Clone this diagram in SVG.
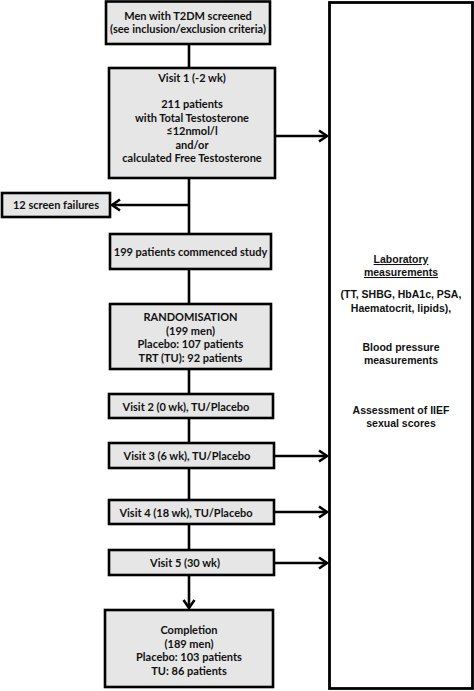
<svg xmlns="http://www.w3.org/2000/svg" width="474" height="691" viewBox="0 0 474 691">
<style>
.box{fill:#e6e6e6;stroke:#000;stroke-width:2.6}
.rbox{fill:#fff;stroke:#000;stroke-width:2.8}
.t{font-family:Lato,"Liberation Sans",sans-serif;font-weight:bold;font-size:11px;fill:#111;text-anchor:middle}
.r{font-family:"Liberation Sans",Arial,sans-serif;font-weight:bold;font-size:10.5px;fill:#111;text-anchor:middle}
.c{stroke:#000;stroke-width:2.6;fill:none}
</style>
<defs>
<marker id="ah" markerUnits="userSpaceOnUse" markerWidth="12" markerHeight="14" refX="9" refY="7" orient="auto" viewBox="0 0 12 14">
<path d="M1,1.5 L9,7 L1,12.5" fill="none" stroke="#000" stroke-width="2.6"/>
</marker>
</defs>
<rect width="474" height="691" fill="#fff"/>
<g id="connectors">
<line class="c" x1="189" y1="44" x2="189" y2="68"/>
<line class="c" x1="189" y1="178" x2="189" y2="234"/>
<line class="c" x1="189" y1="205" x2="112" y2="205" marker-end="url(#ah)"/>
<line class="c" x1="189" y1="269" x2="189" y2="304"/>
<line class="c" x1="189" y1="369" x2="189" y2="394"/>
<line class="c" x1="189" y1="418" x2="189" y2="443"/>
<line class="c" x1="189" y1="468" x2="189" y2="500"/>
<line class="c" x1="189" y1="524" x2="189" y2="550"/>
<line class="c" x1="189" y1="575" x2="189" y2="608" marker-end="url(#ah)"/>
<line class="c" x1="275" y1="136" x2="327" y2="136" marker-end="url(#ah)"/>
<line class="c" x1="275" y1="456" x2="327" y2="456" marker-end="url(#ah)"/>
<line class="c" x1="275" y1="512" x2="327" y2="512" marker-end="url(#ah)"/>
<line class="c" x1="275" y1="563" x2="327" y2="563" marker-end="url(#ah)"/>
</g>
<g id="screened">
<rect class="box" x="106" y="1.5" width="164" height="42.5"/>
<text class="t" x="188" y="20">Men with T2DM screened</text>
<text class="t" x="188" y="33">(see inclusion/exclusion criteria)</text>
</g>
<g id="visit1">
<rect class="box" x="109" y="68" width="166" height="110"/>
<text class="t" x="192" y="82">Visit 1 (-2 wk)</text>
<text class="t" x="192" y="108">211 patients</text>
<text class="t" x="192" y="121.5">with Total Testosterone</text>
<text class="t" x="192" y="135">≤12nmol/l</text>
<text class="t" x="192" y="148.5">and/or</text>
<text class="t" x="192" y="162">calculated Free Testosterone</text>
</g>
<g id="failures">
<rect class="box" x="2" y="193" width="108" height="24"/>
<text class="t" x="56" y="209">12 screen failures</text>
</g>
<g id="commenced">
<rect class="box" x="110" y="234" width="161" height="35"/>
<text class="t" x="190.5" y="256">199 patients commenced study</text>
</g>
<g id="randomisation">
<rect class="box" x="110" y="304" width="161" height="65"/>
<text class="t" x="190.5" y="321">RANDOMISATION</text>
<text class="t" x="190.5" y="335">(199 men)</text>
<text class="t" x="190.5" y="348">Placebo: 107 patients</text>
<text class="t" x="190.5" y="361.5">TRT (TU): 92 patients</text>
</g>
<g id="visit2">
<rect class="box" x="109" y="394" width="164" height="24"/>
<text class="t" x="186" y="410.5">Visit 2 (0 wk), TU/Placebo</text>
</g>
<g id="visit3">
<rect class="box" x="109" y="443" width="165" height="25"/>
<text class="t" x="187" y="460">Visit 3 (6 wk), TU/Placebo</text>
</g>
<g id="visit4">
<rect class="box" x="109" y="500" width="165" height="24"/>
<text class="t" x="186" y="516.5">Visit 4 (18 wk), TU/Placebo</text>
</g>
<g id="visit5">
<rect class="box" x="109" y="550" width="165" height="25"/>
<text class="t" x="185" y="567">Visit 5 (30 wk)</text>
</g>
<g id="completion">
<rect class="box" x="105" y="610" width="168" height="77"/>
<text class="t" x="189" y="634">Completion</text>
<text class="t" x="189" y="647.5">(189 men)</text>
<text class="t" x="189" y="661">Placebo: 103 patients</text>
<text class="t" x="189" y="674.5">TU: 86 patients</text>
</g>
<g id="measurements">
<rect class="rbox" x="329.5" y="2.5" width="143" height="686"/>
<text class="r" x="401" y="263" text-decoration="underline">Laboratory</text>
<text class="r" x="401" y="276" text-decoration="underline">measurements</text>
<text class="r" x="401" y="298">(TT, SHBG, HbA1c, PSA,</text>
<text class="r" x="401" y="312">Haematocrit, lipids),</text>
<text class="r" x="401" y="351">Blood pressure</text>
<text class="r" x="401" y="364">measurements</text>
<text class="r" x="401" y="414">Assessment of IIEF</text>
<text class="r" x="401" y="427">sexual scores</text>
</g>
</svg>
